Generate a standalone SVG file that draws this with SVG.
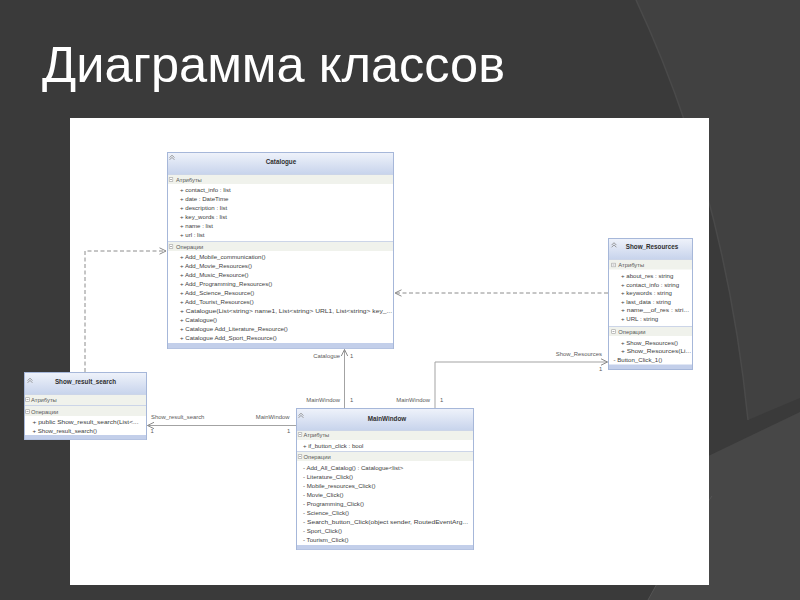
<svg xmlns="http://www.w3.org/2000/svg" xmlns:xlink="http://www.w3.org/1999/xlink" width="800" height="600" viewBox="0 0 800 600">
<style>
.t{font-family:'Liberation Sans',Arial,sans-serif;font-size:6.1px;fill:#404040}
.s{font-family:'Liberation Sans',Arial,sans-serif;font-size:5.8px;fill:#555}
.h{font-family:'Liberation Sans',Arial,sans-serif;font-size:6.3px;font-weight:bold;fill:#2e2e2e;text-anchor:middle}
.l{font-family:'Liberation Sans',Arial,sans-serif;font-size:5.9px;fill:#5a5a5a}
.e{text-anchor:end}
.box{fill:#fff;stroke:#a6b7d9;stroke-width:1}
.hdr{fill:url(#hg)}
.band{fill:#f0f2ec}
.sep{stroke:#ccd5e8;stroke-width:1}
.bot{fill:#c3cfea}
.dash{fill:none;stroke:#8c8c8c;stroke-width:1;stroke-dasharray:4 2.5}
.sol{fill:none;stroke:#a3a3a3;stroke-width:1}
</style>
<defs>
<linearGradient id="hg" x1="0" y1="0" x2="0" y2="1">
<stop offset="0" stop-color="#eef2fa"/>
<stop offset="1" stop-color="#c8d4ec"/>
</linearGradient>
<marker id="arr" viewBox="0 0 8 8" refX="7.5" refY="4" markerWidth="8" markerHeight="8" markerUnits="userSpaceOnUse" orient="auto">
<path d="M1,0.8 L7.5,4 L1,7.2" fill="none" stroke="#8a8a8a" stroke-width="1"/>
</marker>
<g id="chev"><path d="M-2.4,0.6 L0,-1.8 L2.4,0.6 M-2.4,2.8 L0,0.4 L2.4,2.8" fill="none" stroke="#8c8c8c" stroke-width="0.9"/></g>
<g id="mn"><rect x="-1.8" y="-1.8" width="3.6" height="3.6" fill="#fff" stroke="#a0a0a0" stroke-width="0.6"/><path d="M-1,0 H1" stroke="#777" stroke-width="0.6"/></g>
</defs>

<rect x="0" y="0" width="800" height="600" fill="#3a3a3a"/>
<path d="M636,0 Q725,190 748,420 L800,398 L800,0 Z" fill="#414141"/>
<path d="M636,0 Q725,190 748,420" fill="none" stroke="#4a4a4a" stroke-width="1.5"/>
<path d="M700,460 L800,412 L800,600 L648,600 Q680,540 706,500 Z" fill="#474747"/>
<path d="M648,600 Q680,540 712,496" fill="none" stroke="#555" stroke-width="1"/>

<rect x="70" y="118" width="639" height="467" fill="#ffffff"/>

<text x="42" y="82" font-family="'Liberation Sans',Arial,sans-serif" font-size="50" fill="#ffffff" textLength="463" lengthAdjust="spacingAndGlyphs">Диаграмма классов</text>

<g id="connectors">
<path class="dash" d="M85,372 V251 H166" marker-end="url(#arr)"/>
<path class="dash" d="M608,293 H395" marker-end="url(#arr)"/>
<path class="sol" d="M344.5,408 V349.5" marker-end="url(#arr)"/>
<path class="sol" d="M435,408 V362 H607.5" marker-end="url(#arr)"/>
<path class="sol" d="M296,425.5 H147.5" marker-end="url(#arr)"/>
<text class="l e" x="340" y="358">Catalogue</text>
<text class="l" x="350" y="358">1</text>
<text class="l e" x="340" y="402">MainWindow</text>
<text class="l" x="350" y="402">1</text>
<text class="l e" x="602" y="356.3">Show_Resources</text>
<text class="l" x="599" y="371">1</text>
<text class="l e" x="430" y="402">MainWindow</text>
<text class="l" x="440" y="402">1</text>
<text class="l" x="151" y="419.3">Show_result_search</text>
<text class="l" x="150.5" y="432.7">1</text>
<text class="l e" x="289.5" y="419.3">MainWindow</text>
<text class="l" x="287" y="432.7">1</text>
</g>

<g id="catalogue">
<rect class="box" x="167.5" y="152.5" width="226" height="196"/>
<rect class="hdr" x="168" y="153" width="225" height="21"/>
<path class="sep" d="M168,174.5 H393"/>
<rect class="band" x="168" y="175" width="225" height="9"/>
<path class="sep" d="M168,241.5 H393"/>
<rect class="band" x="168" y="242" width="225" height="9"/>
<rect class="bot" x="168" y="343" width="225" height="5.5"/>
<use xlink:href="#chev" x="172" y="157"/>
<text class="h" x="281" y="163.5">Catalogue</text>
<use xlink:href="#mn" x="171" y="179.5"/>
<text class="s" x="176" y="181.5">Атрибуты</text>
<text class="t" x="180" y="192">+ contact_info : list</text>
<text class="t" x="180" y="201">+ date : DateTime</text>
<text class="t" x="180" y="210">+ description : list</text>
<text class="t" x="180" y="219">+ key_words : list</text>
<text class="t" x="180" y="228">+ name : list</text>
<text class="t" x="180" y="237">+ url : list</text>
<use xlink:href="#mn" x="171" y="246.5"/>
<text class="s" x="176" y="248.5">Операции</text>
<text class="t" x="180" y="258.7">+ Add_Mobile_communication()</text>
<text class="t" x="180" y="267.7">+ Add_Movie_Resources()</text>
<text class="t" x="180" y="276.7">+ Add_Music_Resource()</text>
<text class="t" x="180" y="285.7">+ Add_Programming_Resources()</text>
<text class="t" x="180" y="294.7">+ Add_Science_Resource()</text>
<text class="t" x="180" y="304">+ Add_Tourist_Resources()</text>
<text class="t" x="180" y="313" textLength="212" lengthAdjust="spacingAndGlyphs">+ Catalogue(List&lt;string&gt;  name1,  List&lt;string&gt;  URL1,  List&lt;string&gt;  key_...</text>
<text class="t" x="180" y="322">+ Catalogue()</text>
<text class="t" x="180" y="331">+ Catalogue Add_Literature_Resource()</text>
<text class="t" x="180" y="340">+ Catalogue Add_Sport_Resource()</text>
</g>

<g id="show_resources">
<rect class="box" x="608.5" y="238.5" width="84" height="131"/>
<rect class="hdr" x="609" y="239" width="83" height="20"/>
<path class="sep" d="M609,259.5 H692"/>
<rect class="band" x="609" y="260" width="83" height="9.5"/>
<path class="sep" d="M609,326.5 H692"/>
<rect class="band" x="609" y="327" width="83" height="9"/>
<rect class="bot" x="609" y="364.5" width="83" height="4.5"/>
<use xlink:href="#chev" x="614" y="244.5"/>
<text class="h" x="652" y="249">Show_Resources</text>
<use xlink:href="#mn" x="613.5" y="265"/>
<text class="s" x="618.3" y="267">Атрибуты</text>
<text class="t" x="621" y="278">+ about_res : string</text>
<text class="t" x="621" y="286.5">+ contact_info : string</text>
<text class="t" x="621" y="295">+ keywords : string</text>
<text class="t" x="621" y="303.5">+ last_data : string</text>
<text class="t" x="621" y="312" textLength="68" lengthAdjust="spacingAndGlyphs">+ name__of_res : stri...</text>
<text class="t" x="621" y="321">+ URL : string</text>
<use xlink:href="#mn" x="613.5" y="331.5"/>
<text class="s" x="618.3" y="333.5">Операции</text>
<text class="t" x="621" y="344.5">+ Show_Resources()</text>
<text class="t" x="621" y="353" textLength="70" lengthAdjust="spacingAndGlyphs">+  Show_Resources(Li...</text>
<text class="t" x="613.5" y="362">- Button_Click_1()</text>
</g>

<g id="show_result_search">
<rect class="box" x="24.5" y="372.5" width="122" height="67"/>
<rect class="hdr" x="25" y="373" width="121" height="21"/>
<path class="sep" d="M25,394.5 H146"/>
<rect class="band" x="25" y="395" width="121" height="10"/>
<path class="sep" d="M25,405.5 H146"/>
<rect class="band" x="25" y="406" width="121" height="10"/>
<rect class="bot" x="25" y="435" width="121" height="4.5"/>
<use xlink:href="#chev" x="30" y="380"/>
<text class="h" x="85.5" y="383.5">Show_result_search</text>
<use xlink:href="#mn" x="27.5" y="399.5"/>
<text class="s" x="31" y="401.5">Атрибуты</text>
<use xlink:href="#mn" x="27.5" y="411.5"/>
<text class="s" x="31" y="413.5">Операции</text>
<text class="t" x="32.5" y="423.7" textLength="106" lengthAdjust="spacingAndGlyphs">+  public  Show_result_search(List&lt;...</text>
<text class="t" x="32.5" y="433">+ Show_result_search()</text>
</g>

<g id="mainwindow">
<rect class="box" x="296.5" y="408.5" width="177" height="141"/>
<rect class="hdr" x="297" y="409" width="176" height="21"/>
<path class="sep" d="M297,430.5 H473"/>
<rect class="band" x="297" y="431" width="176" height="9"/>
<path class="sep" d="M297,451.5 H473"/>
<rect class="band" x="297" y="452" width="176" height="9"/>
<rect class="bot" x="297" y="545" width="176" height="4.5"/>
<use xlink:href="#chev" x="301" y="415"/>
<text class="h" x="387" y="420.5">MainWindow</text>
<use xlink:href="#mn" x="300" y="434.5"/>
<text class="s" x="303.5" y="436.5">Атрибуты</text>
<text class="t" x="303" y="447.7">+ if_button_click : bool</text>
<use xlink:href="#mn" x="300" y="456.5"/>
<text class="s" x="303.5" y="458.5">Операции</text>
<text class="t" x="303" y="469.7">- Add_All_Catalog() : Catalogue&lt;list&gt;</text>
<text class="t" x="303" y="478.7">- Literature_Click()</text>
<text class="t" x="303" y="487.7">- Mobile_resources_Click()</text>
<text class="t" x="303" y="496.7">- Movie_Click()</text>
<text class="t" x="303" y="505.7">- Programming_Click()</text>
<text class="t" x="303" y="514.5">- Science_Click()</text>
<text class="t" x="303" y="523.7" textLength="165" lengthAdjust="spacingAndGlyphs">-  Search_button_Click(object  sender,  RoutedEventArg...</text>
<text class="t" x="303" y="532.7">- Sport_Click()</text>
<text class="t" x="303" y="542">- Tourism_Click()</text>
</g>
</svg>
